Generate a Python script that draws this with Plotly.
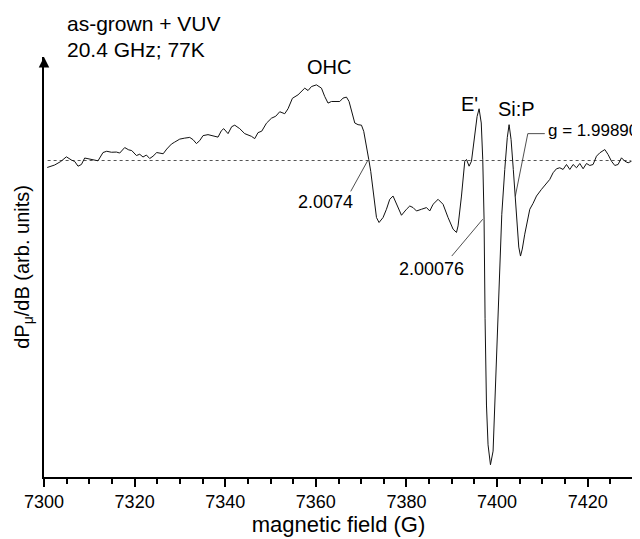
import plotly.graph_objects as go

# magnetic field (G)
field = [7300.71, 7302.36, 7303.69, 7304.94, 7306.05, 7306.78, 7307.51, 7308.26, 7308.98, 7310.09,
         7311.19, 7311.92, 7313.02, 7313.84, 7314.88, 7315.98, 7316.71, 7317.81, 7318.70, 7319.36,
         7320.40, 7321.13, 7321.85, 7322.60, 7323.33, 7324.06, 7324.88, 7325.65, 7326.31, 7327.09,
         7328.12, 7328.85, 7329.96, 7331.06, 7332.16, 7332.89, 7333.64, 7334.37, 7335.10, 7336.20,
         7337.31, 7338.41, 7339.16, 7339.67, 7340.62, 7341.43, 7342.10, 7343.20, 7344.30, 7345.78,
         7346.51, 7347.24, 7348.06, 7349.10, 7350.20, 7351.15, 7352.03, 7353.13, 7353.86, 7354.83,
         7356.07, 7357.55, 7358.28, 7359.03, 7360.13, 7361.24, 7361.96, 7362.69, 7363.44, 7364.55,
         7365.28, 7366.00, 7366.76, 7367.33, 7368.08, 7368.59, 7369.32, 7370.07, 7370.57, 7371.17,
         7371.68, 7372.12, 7372.63, 7373.38, 7373.95, 7374.83, 7375.58, 7376.31, 7377.04, 7377.79,
         7378.90, 7380.00, 7380.73, 7381.46, 7382.21, 7383.31, 7384.42, 7385.14, 7385.87, 7386.98,
         7388.08, 7389.18, 7390.29, 7391.04, 7391.39, 7392.14, 7392.87, 7393.25, 7393.82, 7394.35,
         7395.08, 7395.59, 7396.03, 7396.51, 7396.84, 7397.13, 7397.35, 7397.66, 7398.01, 7398.54,
         7399.12, 7399.87, 7400.60, 7401.04, 7401.70, 7402.25, 7402.65, 7403.09, 7403.58, 7404.02,
         7404.46, 7404.79, 7405.17, 7405.56, 7406.11, 7407.22, 7407.95, 7408.70, 7409.80, 7410.91,
         7411.63, 7412.36, 7413.11, 7413.84, 7414.57, 7415.32, 7416.05, 7416.78, 7417.53, 7418.26,
         7418.99, 7419.74, 7420.46, 7421.19, 7421.94, 7422.67, 7423.78, 7424.50, 7425.25, 7425.98,
         7426.71, 7427.46, 7428.19, 7428.92, 7429.67]

# dP/dB (arb. units)
signal = [-7, -4.5, -1, 3.7, 0.5, -1, -5.7, -4, 2.5, 1.5,
          0, -0.3, 8, 9.3, 8.3, 8.5, 7.5, 13, 10.7, 10,
          5, 6.3, 3.5, 5.5, 2, 4.3, 8, 7.5, 6.8, 11.5,
          16.5, 18.5, 21.5, 22.5, 23.2, 21, 17, 20, 25, 26,
          24.5, 23.5, 30, 32, 27, 34, 35.5, 32, 27, 24.3,
          22, 28, 29.5, 37.5, 42.5, 44.5, 49, 47, 52, 62.5,
          66, 72.7, 70.3, 74.3, 76, 72.7, 64.3, 57.7, 59.3, 59.3,
          59.3, 62.7, 63.7, 59.3, 46, 37.7, 36, 35.5, 29.3, 16,
          1, -11, -29, -57.3, -62.3, -57.3, -49, -39, -35.7, -44,
          -55, -49, -45.7, -47.3, -50.7, -49, -47.3, -50.7, -44, -39,
          -44, -57.3, -69, -72.3, -65.7, -35.7, -0.7, 1, -5.7, -0.7,
          27.7, 44.3, 52, 37.7, 1, -59, -159, -245.7, -285.7, -305.7,
          -292, -192, -99, -54, -9, 23, 36, 21, -9, -36,
          -64, -87, -96, -89, -74, -49, -43, -35.7, -29, -23,
          -19, -12.3, -8.3, -7.3, -9, -4, -9, -4, -7.3, -3,
          -8.3, -3, -5, -4, 4.3, 7.7, 11, 6, -0.7, -5,
          -4, 2.7, -0.7, -2.3, -0.7]

baseline_x = [7300.8, 7429.5]
baseline_y = [0, 0]

# leader lines (field, signal)
lead_0074_x = [7371.46, 7367.70]
lead_0074_y = [0, -31]
lead_00076_x = [7396.84, 7390.00]
lead_00076_y = [-59, -96]
lead_g_x = [7404.02, 7406.78, 7410.53]
lead_g_y = [-36, 27, 27]

x_range = [7300, 7430]
y_range = [-318, 104]

FONT = "Arial, Liberation Sans, sans-serif"

fig = go.Figure()
fig.add_trace(go.Scatter(x=baseline_x, y=baseline_y, mode="lines",
                         line=dict(color="#555", width=1, dash="dot"), hoverinfo="skip"))
fig.add_trace(go.Scatter(x=field, y=signal, mode="lines",
                         line=dict(color="#111", width=1)))
for lx, ly in [(lead_0074_x, lead_0074_y), (lead_00076_x, lead_00076_y), (lead_g_x, lead_g_y)]:
    fig.add_trace(go.Scatter(x=lx, y=ly, mode="lines", line=dict(color="#222", width=0.8),
                             hoverinfo="skip"))

labels = [
    ("OHC", 7362.85, 94, "center", 20),
    ("E'", 7393.97, 57, "center", 20),
    ("Si:P", 7404.35, 52, "center", 20),
    ("g = 1.99890", 7410.9, 30, "left", 17),
    ("2.0074", 7362.19, -42, "center", 18),
    ("2.00076", 7385.59, -109, "center", 18),
]
for txt, x, y, xa, fs in labels:
    fig.add_annotation(x=x, y=y, text=txt, showarrow=False, xanchor=xa, yanchor="middle",
                       font=dict(family=FONT, size=fs, color="black"))

fig.add_annotation(xref="paper", yref="paper", x=0.0357, y=1.0806, text="as-grown + VUV",
                   showarrow=False, xanchor="left", yanchor="middle",
                   font=dict(family=FONT, size=21, color="black"))
fig.add_annotation(xref="paper", yref="paper", x=0.0357, y=1.019, text="20.4 GHz; 77K",
                   showarrow=False, xanchor="left", yanchor="middle",
                   font=dict(family=FONT, size=21, color="black"))
fig.add_annotation(xref="paper", yref="paper", x=-0.036, y=0.5,
                   text="dP<sub>μ</sub>/dB (arb. units)", textangle=-90,
                   showarrow=False, xanchor="center", yanchor="middle",
                   font=dict(family=FONT, size=20, color="black"))
# y-axis arrow
fig.add_annotation(x=x_range[0], y=y_range[1], text=" ", showarrow=True, ax=0, ay=16,
                   arrowhead=2, arrowsize=1.4, arrowwidth=1.5, arrowcolor="black")

fig.update_layout(
    width=632, height=531,
    margin=dict(l=36, r=7, t=49, b=60),
    paper_bgcolor="white", plot_bgcolor="white",
    showlegend=False,
    font=dict(family=FONT, color="black"),
    xaxis=dict(range=x_range, showgrid=False, zeroline=False, showline=True,
               linecolor="black", linewidth=1.5, ticks="outside", ticklen=8, tickwidth=1.5,
               tickcolor="black", dtick=20, tick0=7300, tickfont=dict(size=18),
               minor=dict(dtick=5, ticks="outside", ticklen=5, tickwidth=1.5, tickcolor="black"),
               title=dict(text="magnetic field (G)", font=dict(size=22), standoff=4)),
    yaxis=dict(range=y_range, showgrid=False, zeroline=False, showline=True,
               linecolor="black", linewidth=1.5, ticks="", showticklabels=False),
)

fig.write_html("out.html")
